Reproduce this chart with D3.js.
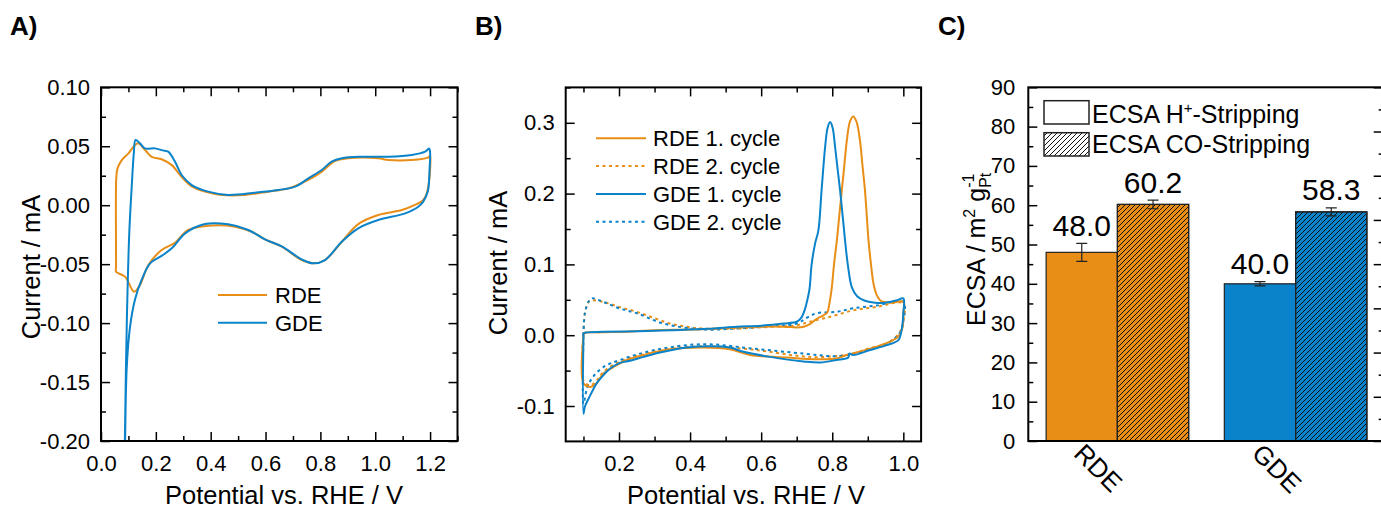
<!DOCTYPE html>
<html>
<head>
<meta charset="utf-8">
<script src="https://cdn.jsdelivr.net/npm/d3@7"></script>
<style>
  body { margin: 0; background: #fff; }
  svg { display: block; font-family: "Liberation Sans", Arial, sans-serif; }
</style>
</head>
<body>
<svg id="fig" width="1381" height="510"></svg>
<script>
const ORANGE = "#e88e17";
const BLUE = "#0a83ca";

// ---- panel A: CV in N2 ----
const aTicksX = [0, 0.2, 0.4, 0.6, 0.8, 1.0, 1.2];
const aTickLabelsX = ["0.0", "0.2", "0.4", "0.6", "0.8", "1.0", "1.2"];
const aTicksY = [-0.2, -0.15, -0.1, -0.05, 0, 0.05, 0.1];
const aTickLabelsY = ["-0.20", "-0.15", "-0.10", "-0.05", "0.00", "0.05", "0.10"];
const aLegend = ["RDE", "GDE"];

const aRDE = [[0.057,0.027],[0.06,0.031],[0.075,0.038],[0.10,0.044],[0.124,0.051],[0.136,0.0525],[0.16,0.047],[0.185,0.041],[0.221,0.039],[0.258,0.034],[0.294,0.024],[0.331,0.016],[0.379,0.0115],[0.44,0.0087],[0.525,0.0087],[0.61,0.0115],[0.683,0.0143],[0.756,0.0214],[0.805,0.0284],[0.853,0.0375],[0.902,0.0398],[1.011,0.0398],[1.048,0.0383],[1.133,0.0383],[1.194,0.0406],[1.2,0.042],
  [1.2,0.03],[1.195,0.018],[1.188,0.01],[1.175,0.0044],[1.145,0.0002],[1.097,-0.0041],[1.011,-0.0083],[0.938,-0.016],[0.878,-0.031],[0.817,-0.0465],[0.78,-0.0493],[0.732,-0.0465],[0.659,-0.0352],[0.598,-0.029],[0.55,-0.0225],[0.489,-0.0182],[0.391,-0.0174],[0.318,-0.021],[0.27,-0.0318],[0.221,-0.038],[0.173,-0.0507],[0.142,-0.0677],[0.121,-0.0734],[0.0875,-0.0606],[0.055,-0.0564],[0.055,-0.052],[0.055,0.02],[0.057,0.027]];

const aGDE = [[0.084,-0.23],[0.087,-0.2],[0.091,-0.137],[0.096,-0.08],[0.103,-0.024],[0.112,0.0156],[0.12,0.045],[0.126,0.0553],[0.142,0.0525],[0.16,0.0482],[0.197,0.0482],[0.225,0.0465],[0.245,0.0454],[0.27,0.0369],[0.294,0.0256],[0.331,0.0171],[0.391,0.0115],[0.464,0.0087],[0.562,0.0106],[0.647,0.0129],[0.708,0.0157],[0.756,0.0228],[0.805,0.0299],[0.841,0.0369],[0.878,0.0398],[0.951,0.0411],[1.048,0.0411],[1.133,0.0426],[1.182,0.0454],[1.197,0.048],
  [1.2,0.045],[1.198,0.03],[1.192,0.012],[1.175,0.003],[1.157,-0.0013],[1.109,-0.0069],[1.011,-0.0126],[0.938,-0.0196],[0.878,-0.031],[0.817,-0.0465],[0.774,-0.0493],[0.732,-0.046],[0.659,-0.035],[0.598,-0.029],[0.537,-0.021],[0.464,-0.0162],[0.379,-0.016],[0.307,-0.0239],[0.258,-0.0366],[0.221,-0.043],[0.179,-0.0493],[0.148,-0.0634],[0.124,-0.08],[0.106,-0.103],[0.094,-0.137],[0.088,-0.2],[0.087,-0.23]];

// ---- panel B: CO stripping ----
const bTicksX = [0.2, 0.4, 0.6, 0.8, 1.0];
const bTickLabelsX = ["0.2", "0.4", "0.6", "0.8", "1.0"];
const bTicksY = [-0.1, 0, 0.1, 0.2, 0.3];
const bTickLabelsY = ["-0.1", "0.0", "0.1", "0.2", "0.3"];
const bLegend = ["RDE 1. cycle", "RDE 2. cycle", "GDE 1. cycle", "GDE 2. cycle"];

const bRDE1 = [[0.1,0.0],[0.102,0.003],[0.15,0.004],[0.222,0.005],[0.3,0.007],[0.409,0.008],[0.5,0.01],[0.597,0.012],[0.663,0.012],[0.70,0.011],[0.72,0.012],[0.738,0.016],[0.756,0.023],[0.775,0.028],[0.786,0.032],[0.792,0.045],[0.798,0.064],[0.805,0.10],[0.813,0.134],[0.82,0.17],[0.827,0.205],[0.834,0.24],[0.841,0.275],[0.85,0.302],[0.859,0.309],[0.868,0.302],[0.878,0.275],[0.885,0.24],[0.892,0.205],[0.897,0.17],[0.902,0.134],[0.909,0.10],[0.916,0.073],[0.925,0.057],[0.938,0.048],[0.963,0.046],[1.0,0.047],
  [1.0,0.03],[0.998,0.012],[0.986,-0.002],[0.963,-0.009],[0.906,-0.019],[0.84,-0.028],[0.812,-0.033],[0.756,-0.034],[0.672,-0.0315],[0.569,-0.028],[0.512,-0.02],[0.437,-0.0174],[0.344,-0.02],[0.269,-0.028],[0.222,-0.035],[0.184,-0.045],[0.156,-0.054],[0.137,-0.068],[0.119,-0.073],[0.1,-0.068],[0.1,0.0]];

const bRDE2 = [[0.1,0.0],[0.104,0.031],[0.112,0.045],[0.119,0.049],[0.156,0.047],[0.2,0.04],[0.25,0.033],[0.3,0.024],[0.344,0.0165],[0.39,0.012],[0.437,0.0094],[0.531,0.0094],[0.625,0.0118],[0.7,0.014],[0.737,0.019],[0.794,0.026],[0.859,0.035],[0.925,0.04],[1.0,0.045],
  [1.0,0.02],[0.99,0.004],[0.953,-0.012],[0.9,-0.019],[0.859,-0.026],[0.766,-0.031],[0.7,-0.029],[0.625,-0.0235],[0.55,-0.019],[0.437,-0.0155],[0.35,-0.019],[0.27,-0.027],[0.22,-0.034],[0.18,-0.043],[0.156,-0.052],[0.137,-0.064],[0.119,-0.071],[0.1,-0.064],[0.1,0.0]];

const bGDE1 = [[0.1,-0.002],[0.1,0.0024],[0.11,0.004],[0.156,0.0047],[0.25,0.0055],[0.344,0.007],[0.45,0.009],[0.531,0.0118],[0.6,0.0135],[0.663,0.0165],[0.7,0.019],[0.712,0.024],[0.722,0.035],[0.73,0.05],[0.736,0.065],[0.742,0.1],[0.752,0.13],[0.761,0.148],[0.77,0.205],[0.78,0.266],[0.787,0.293],[0.794,0.301],[0.801,0.293],[0.808,0.266],[0.815,0.235],[0.822,0.205],[0.829,0.17],[0.836,0.134],[0.845,0.095],[0.855,0.068],[0.87,0.055],[0.89,0.049],[0.92,0.046],[0.95,0.046],[0.98,0.049],[1.0,0.052],
  [1.0,0.031],[0.995,0.007],[0.986,-0.007],[0.953,-0.014],[0.906,-0.021],[0.859,-0.028],[0.848,-0.026],[0.845,-0.0315],[0.812,-0.035],[0.766,-0.0386],[0.719,-0.037],[0.625,-0.0306],[0.55,-0.0235],[0.512,-0.0174],[0.456,-0.0155],[0.39,-0.0174],[0.325,-0.0235],[0.269,-0.0306],[0.231,-0.036],[0.203,-0.039],[0.175,-0.047],[0.156,-0.0565],[0.137,-0.068],[0.119,-0.085],[0.104,-0.101],[0.1,-0.111],[0.1,-0.002]];

const bGDE2 = [[0.1,0.0],[0.104,0.031],[0.115,0.048],[0.124,0.052],[0.156,0.047],[0.2,0.038],[0.25,0.031],[0.325,0.0165],[0.437,0.008],[0.53,0.0095],[0.625,0.0127],[0.7,0.0165],[0.73,0.025],[0.756,0.031],[0.812,0.033],[0.859,0.038],[0.925,0.042],[1.0,0.047],
  [1.0,0.02],[0.99,0.003],[0.953,-0.012],[0.859,-0.026],[0.812,-0.0297],[0.719,-0.026],[0.578,-0.019],[0.437,-0.0127],[0.3,-0.021],[0.203,-0.035],[0.156,-0.045],[0.125,-0.06],[0.11,-0.075],[0.1,-0.097],[0.1,0.0]];

// ---- panel C: ECSA bars ----
const cCategories = ["RDE", "GDE"];
const cHValues = [48.0, 40.0];
const cHErrors = [2.3, 0.55];
const cCOValues = [60.2, 58.3];
const cCOErrors = [1.1, 1.0];
const cTicksY = [0, 10, 20, 30, 40, 50, 60, 70, 80, 90];
const cTicksRight = [0, 1, 2, 3, 4, 5, 6, 7, 8];

const svg = d3.select("#fig");
const defs = svg.append("defs");

// hatch for CO-stripping bars
const hatch = defs.append("pattern").attr("id", "hatch")
  .attr("patternUnits", "userSpaceOnUse").attr("width", 5).attr("height", 5);
hatch.append("path").attr("d", "M0,5 L5,0 M-1,1 L1,-1 M4,6 L6,4")
  .attr("stroke", "#111").attr("stroke-width", 1);

function midpoints(arr) {
  const out = [];
  for (let i = 0; i < arr.length - 1; i++) out.push((arr[i] + arr[i + 1]) / 2);
  return out;
}

function styleAxis(g, size) {
  g.select(".domain").remove();
  g.selectAll("line").attr("stroke", "#000").attr("stroke-width", 1.5);
  g.selectAll("text").attr("font-size", size).attr("fill", "#000")
    .attr("font-family", "Liberation Sans, Arial, sans-serif");
}

// boxed frame with inward ticks on all sides
function boxAxes(x, y, o) {
  const [x0, x1] = x.range();
  const [y0, y1] = y.range();
  const g = svg.append("g");
  const xMinor = o.xMinor, yMinor = o.yMinor;

  g.append("g").attr("transform", `translate(0,${y0})`)
    .call(d3.axisBottom(x).tickValues(o.xTicks).tickFormat((d, i) => o.xLabels[i]).tickSize(-9).tickSizeOuter(0).tickPadding(14))
    .call(a => styleAxis(a, 22));
  g.append("g").attr("transform", `translate(0,${y0})`)
    .call(d3.axisBottom(x).tickValues(xMinor).tickFormat("").tickSize(-5).tickSizeOuter(0))
    .call(a => styleAxis(a, 22));
  g.append("g").attr("transform", `translate(0,${y1})`)
    .call(d3.axisTop(x).tickValues(o.xTicks).tickFormat("").tickSize(-9).tickSizeOuter(0))
    .call(a => styleAxis(a, 22));
  g.append("g").attr("transform", `translate(0,${y1})`)
    .call(d3.axisTop(x).tickValues(xMinor).tickFormat("").tickSize(-5).tickSizeOuter(0))
    .call(a => styleAxis(a, 22));

  g.append("g").attr("transform", `translate(${x0},0)`)
    .call(d3.axisLeft(y).tickValues(o.yTicks).tickFormat((d, i) => o.yLabels[i]).tickSize(-9).tickSizeOuter(0).tickPadding(11))
    .call(a => styleAxis(a, 22));
  g.append("g").attr("transform", `translate(${x0},0)`)
    .call(d3.axisLeft(y).tickValues(yMinor).tickFormat("").tickSize(-5).tickSizeOuter(0))
    .call(a => styleAxis(a, 22));
  g.append("g").attr("transform", `translate(${x1},0)`)
    .call(d3.axisRight(y).tickValues(o.yTicks).tickFormat("").tickSize(-9).tickSizeOuter(0))
    .call(a => styleAxis(a, 22));
  g.append("g").attr("transform", `translate(${x1},0)`)
    .call(d3.axisRight(y).tickValues(yMinor).tickFormat("").tickSize(-5).tickSizeOuter(0))
    .call(a => styleAxis(a, 22));

  g.append("rect").attr("x", x0).attr("y", y1).attr("width", x1 - x0).attr("height", y0 - y1)
    .attr("fill", "none").attr("stroke", "#000").attr("stroke-width", 2);
}

function panelLabel(txt, x) {
  svg.append("text").attr("x", x).attr("y", 35).attr("font-size", 26)
    .attr("font-weight", "bold").text(txt);
}

const line = (x, y) => d3.line().x(d => x(d[0])).y(d => y(d[1])).curve(d3.curveCatmullRom.alpha(0.5));

// ================= Panel A =================
{
  const x = d3.scaleLinear().domain([0, 1.3]).range([101, 457.5]);
  const y = d3.scaleLinear().domain([-0.2, 0.1]).range([441, 87.3]);

  defs.append("clipPath").attr("id", "clipA").append("rect")
    .attr("x", 101).attr("y", 87.3).attr("width", 356.5).attr("height", 353.7);

  const plot = svg.append("g").attr("clip-path", "url(#clipA)");
  plot.append("path").datum(aRDE).attr("d", line(x, y)).attr("fill", "none")
    .attr("stroke", ORANGE).attr("stroke-width", 2);
  plot.append("path").datum(aGDE).attr("d", line(x, y)).attr("fill", "none")
    .attr("stroke", BLUE).attr("stroke-width", 2);

  boxAxes(x, y, {
    xTicks: aTicksX, xLabels: aTickLabelsX, xMinor: midpoints(aTicksX).concat([1.3]),
    yTicks: aTicksY, yLabels: aTickLabelsY, yMinor: midpoints(aTicksY)
  });

  const leg = svg.append("g");
  [ORANGE, BLUE].forEach((c, i) => {
    const yy = 295 + i * 27.7;
    leg.append("line").attr("x1", 218).attr("x2", 267).attr("y1", yy).attr("y2", yy)
      .attr("stroke", c).attr("stroke-width", 2);
    leg.append("text").attr("x", 275).attr("y", yy + 8).attr("font-size", 22).text(aLegend[i]);
  });

  svg.append("text").attr("x", 284).attr("y", 504).attr("text-anchor", "middle")
    .attr("font-size", 25.5).text("Potential vs. RHE / V");
  svg.append("text").attr("transform", "translate(40,267) rotate(-90)").attr("text-anchor", "middle")
    .attr("font-size", 25.5).text("Current / mA");
  panelLabel("A)", 10);
}

// ================= Panel B =================
{
  const x = d3.scaleLinear().domain([0.05, 1.05]).range([565.7, 921.1]);
  const y = d3.scaleLinear().domain([-0.15, 0.35]).range([441.4, 87.4]);

  const series = [
    { d: bRDE1, c: ORANGE, dash: null },
    { d: bRDE2, c: ORANGE, dash: "3,3.5" },
    { d: bGDE1, c: BLUE, dash: null },
    { d: bGDE2, c: BLUE, dash: "3,3.5" }
  ];
  const plot = svg.append("g");
  // dotted first, then solid on top
  [1, 3, 0, 2].forEach(i => {
    const s = series[i];
    plot.append("path").datum(s.d).attr("d", line(x, y)).attr("fill", "none")
      .attr("stroke", s.c).attr("stroke-width", 2).attr("stroke-dasharray", s.dash);
  });

  boxAxes(x, y, {
    xTicks: bTicksX, xLabels: bTickLabelsX, xMinor: [0.1].concat(midpoints(bTicksX)),
    yTicks: bTicksY, yLabels: bTickLabelsY, yMinor: midpoints(bTicksY).concat([0.35])
  });

  const leg = svg.append("g");
  series.forEach((s, i) => {
    const yy = 138.3 + i * 27.8;
    leg.append("line").attr("x1", 596).attr("x2", 646).attr("y1", yy).attr("y2", yy)
      .attr("stroke", s.c).attr("stroke-width", 2).attr("stroke-dasharray", s.dash);
    leg.append("text").attr("x", 653).attr("y", yy + 8).attr("font-size", 22).text(bLegend[i]);
  });

  svg.append("text").attr("x", 746).attr("y", 504).attr("text-anchor", "middle")
    .attr("font-size", 25.5).text("Potential vs. RHE / V");
  svg.append("text").attr("transform", "translate(507,263) rotate(-90)").attr("text-anchor", "middle")
    .attr("font-size", 25.5).text("Current / mA");
  panelLabel("B)", 475);
}

// ================= Panel C =================
{
  const x = d3.scaleLinear().domain([0.5, 2.5]).range([1028.3, 1384.7]);
  const y = d3.scaleLinear().domain([0, 90]).range([441, 87.3]);
  const yR = d3.scaleLinear().domain([0, 8]).range([441, 87.3]);
  const colors = [ORANGE, BLUE];
  const bw = 0.4;

  const bars = svg.append("g");
  cCategories.forEach((cat, i) => {
    const c = i + 1;
    // H+ stripping
    bars.append("rect").attr("x", x(c - bw)).attr("y", y(cHValues[i]))
      .attr("width", x(c) - x(c - bw)).attr("height", y(0) - y(cHValues[i]))
      .attr("fill", colors[i]).attr("stroke", "#222").attr("stroke-width", 1.2);
    // CO stripping
    bars.append("rect").attr("x", x(c)).attr("y", y(cCOValues[i]))
      .attr("width", x(c + bw) - x(c)).attr("height", y(0) - y(cCOValues[i]))
      .attr("fill", colors[i]).attr("stroke", "#222").attr("stroke-width", 1.2);
    bars.append("rect").attr("x", x(c)).attr("y", y(cCOValues[i]))
      .attr("width", x(c + bw) - x(c)).attr("height", y(0) - y(cCOValues[i]))
      .attr("fill", "url(#hatch)").attr("stroke", "#222").attr("stroke-width", 1.2);

    [[c - bw / 2, cHValues[i], cHErrors[i]], [c + bw / 2, cCOValues[i], cCOErrors[i]]].forEach(([cx, v, e]) => {
      const px = x(cx);
      bars.append("path")
        .attr("d", `M${px},${y(v + e)}V${y(v - e)}M${px - 5.5},${y(v + e)}H${px + 5.5}M${px - 5.5},${y(v - e)}H${px + 5.5}`)
        .attr("stroke", "#222").attr("stroke-width", 1.2).attr("fill", "none");
      bars.append("text").attr("x", px).attr("y", y(v + e) - 7.5).attr("text-anchor", "middle")
        .attr("font-size", 30).text(v.toFixed(1));
    });

    svg.append("text").attr("transform", `translate(${x(c) - 45},455) rotate(45)`)
      .attr("font-size", 26).text(cat);
  });

  const g = svg.append("g");
  g.append("g").attr("transform", `translate(${x.range()[0]},0)`)
    .call(d3.axisLeft(y).tickValues(cTicksY).tickFormat(d => d).tickSize(-9).tickSizeOuter(0).tickPadding(13))
    .call(a => styleAxis(a, 22));
  g.append("g").attr("transform", `translate(${x.range()[0]},0)`)
    .call(d3.axisLeft(y).tickValues(midpoints(cTicksY)).tickFormat("").tickSize(-5).tickSizeOuter(0))
    .call(a => styleAxis(a, 22));
  g.append("g").attr("transform", `translate(${x.range()[1]},0)`)
    .call(d3.axisRight(yR).tickValues(cTicksRight).tickFormat("").tickSize(-11).tickSizeOuter(0))
    .call(a => styleAxis(a, 22));
  g.append("g").attr("transform", `translate(${x.range()[1]},0)`)
    .call(d3.axisRight(yR).tickValues(midpoints(cTicksRight)).tickFormat("").tickSize(-6).tickSizeOuter(0))
    .call(a => styleAxis(a, 22));
  g.append("rect").attr("x", 1028.3).attr("y", 87.3).attr("width", 1384.7 - 1028.3).attr("height", 441 - 87.3)
    .attr("fill", "none").attr("stroke", "#000").attr("stroke-width", 2);

  // legend
  const leg = svg.append("g");
  leg.append("rect").attr("x", 1044).attr("y", 100.7).attr("width", 45).attr("height", 23.3)
    .attr("fill", "#fff").attr("stroke", "#222").attr("stroke-width", 1.5);
  leg.append("rect").attr("x", 1044).attr("y", 132.7).attr("width", 45).attr("height", 23.3)
    .attr("fill", "url(#hatch)").attr("stroke", "#222").attr("stroke-width", 1.5);
  const t1 = leg.append("text").attr("x", 1092).attr("y", 122.7).attr("font-size", 25);
  t1.append("tspan").text("ECSA H");
  t1.append("tspan").attr("font-size", 15).attr("dy", -10).text("+");
  t1.append("tspan").attr("dy", 10).text("-Stripping");
  leg.append("text").attr("x", 1092).attr("y", 152.7).attr("font-size", 25).text("ECSA CO-Stripping");

  // y title
  const yt = svg.append("text").attr("transform", "translate(985,326) rotate(-90)").attr("font-size", 25);
  yt.append("tspan").text("ECSA / m");
  yt.append("tspan").attr("font-size", 16).attr("dy", -10).text("2");
  yt.append("tspan").attr("dy", 10).text(" g");
  yt.append("tspan").attr("font-size", 16).attr("dy", 6).text("Pt");
  yt.append("tspan").attr("font-size", 16).attr("dx", -15).attr("dy", -17).text("-1");

  panelLabel("C)", 938);
}
</script>
</body>
</html>
